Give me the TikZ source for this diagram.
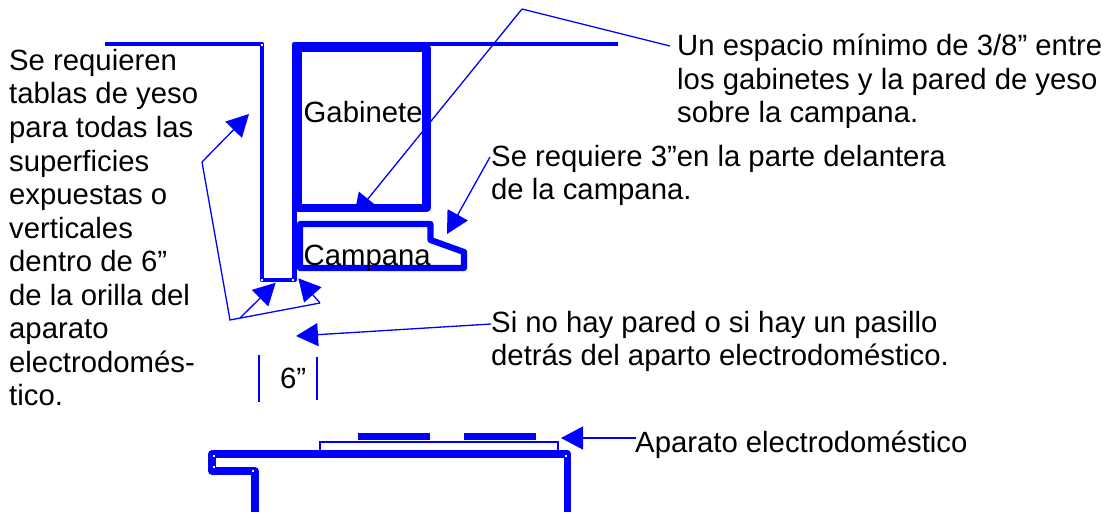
\documentclass[tikz,border=0pt]{standalone}
\usepackage{fontspec}
\setmainfont{Liberation Sans}
\usetikzlibrary{arrows.meta}
\definecolor{planblue}{RGB}{0,0,255}
\tikzset{
	wall/.style={color=planblue, line width=4.8, line join=round},
	thickwall/.style={color=planblue, line width=8.2, line join=round},
	hoodline/.style={color=planblue, line width=6.2, line join=round},
	stoveline/.style={color=planblue, line width=7.6, line join=round},
	leader/.style={color=planblue, line width=1.3},
	pointer/.style={leader, -{Triangle[length=22,width=23]}},
	dimline/.style={color=planblue, line width=1.6},
	note/.style={anchor=north west, inner sep=0, align=left, font=\fontsize{29.3}{33.55}\selectfont},
	tag/.style={anchor=base west, inner sep=0, font=\fontsize{29.3}{33.55}\selectfont},
	grip/.style={fill=white, inner sep=0, minimum size=1.6}
}
\begin{document}
\begin{tikzpicture}[x=1pt, y=-1pt]
			%%%%% START %%%%%
			\useasboundingbox (0, 0) rectangle (1105, 512);

			% wall and cabinet
			\draw[wall] (105, 44) -- (262, 44) -- (262, 280) -- (294.5, 280) -- (294.5, 44) -- (618, 44);

			% leader points
			\coordinate (gapknee) at (522, 9);
			\coordinate (gapend) at (670, 46);
			\coordinate (gaptip) at (354, 216);
			\coordinate (frontend) at (490, 157);
			\coordinate (fronttip) at (447, 234);
			\coordinate (backend) at (491, 324);
			\coordinate (backtip) at (296, 336);
			\coordinate (stoveend) at (636, 438);
			\coordinate (stovetip) at (561, 438);
			\coordinate (wallknee) at (202, 162);
			\coordinate (walltip) at (249, 114);
			\coordinate (wallbase) at (230, 320);
			\coordinate (wallright) at (320, 303);
			\coordinate (wallstart) at (240, 318);
			\coordinate (lefttip) at (275.7, 282.7);
			\coordinate (righttip) at (298.3, 278.3);

			\begin{scope}
				\clip (300, 0) rectangle (540, 211);
				\draw[pointer] (gapknee) -- (gaptip);
			\end{scope}
			\draw[thickwall] (298, 48) rectangle (426.5, 208);

			% hood
			\draw[hoodline] (300, 224) -- (430.5, 224) -- (430.5, 240) -- (464, 252) -- (464, 268) -- (300, 268) -- cycle;

			% stove
			\draw[stoveline] (255, 512) -- (255, 471) -- (212, 471) -- (212, 454) -- (567.5, 454) -- (567.5, 512);
			\draw[color=planblue, line width=2, fill=white] (320, 451) rectangle (558, 441.5);
			\fill[planblue] (358, 433) rectangle (430, 440);
			\fill[planblue] (464, 433) rectangle (536, 440);

			\foreach \gx/\gy [count=\gi] in {262/45, 262/280, 293/280, 214/456, 214/467, 253/471, 566/456}
				\node[grip] (grip\gi) at (\gx, \gy) {};

			% texts
			\node[note] (wallnote) at (9, 49) {Se requieren\\tablas de yeso\\para todas las\\superficies\\expuestas o\\verticales\\dentro de 6”\\de la orilla del\\aparato\\electrodomés-\\tico.};
			\node[note] (gapnote) at (677, 34) {Un espacio mínimo de 3/8” entre\\los gabinetes y la pared de yeso\\sobre la campana.};
			\node[note] (frontnote) at (491, 145) {Se requiere 3”en la parte delantera\\de la campana.};
			\node[note] (backnote) at (491, 311) {Si no hay pared o si hay un pasillo\\detrás del aparto electrodoméstico.};
			\node[tag] (stovenote) at (635, 452) {Aparato electrodoméstico};
			\node[tag] (cabinetlabel) at (303.5, 122) {Gabinete};
			\node[tag] (hoodlabel) at (303.5, 265) {Campana};
			\node[tag] (sixlabel) at (280, 388) {6”};

			\draw[leader] (gapend) -- (gapknee);
			\draw[pointer] (frontend) -- (fronttip);
			\draw[pointer] (backend) -- (backtip);
			\draw[pointer] (stoveend) -- (stovetip);
			\draw[pointer] (wallknee) -- (walltip);
			\draw[leader] (wallknee) -- (wallbase) -- (wallright);
			\draw[pointer] (wallstart) -- (lefttip);
			\draw[pointer] (wallright) -- (righttip);

			\draw[dimline] (259, 355) -- (259, 402);
			\draw[dimline] (317, 357) -- (317, 400);
			%%%%% END %%%%%
\end{tikzpicture}
\end{document}
